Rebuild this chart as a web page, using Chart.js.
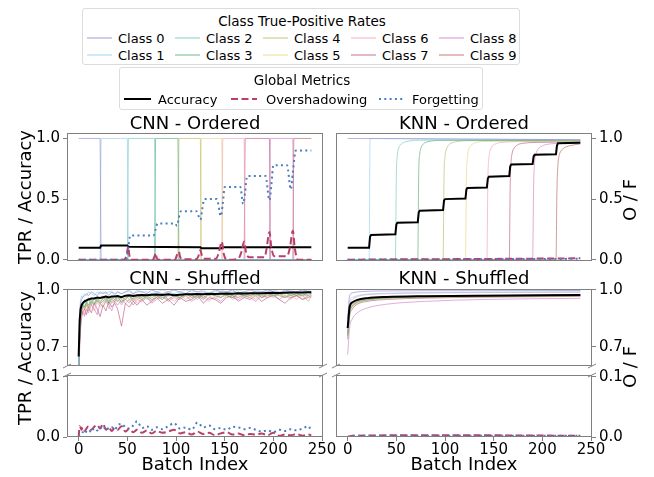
<!DOCTYPE html>
<html>
<head>
<meta charset="utf-8">
<script src="https://cdn.jsdelivr.net/npm/chart.js@4.4.0/dist/chart.umd.min.js"></script>
<style>
  body { margin: 0; background: #fff; font-family: 'DejaVu Sans', sans-serif; overflow: hidden; }
  #wrap { position: relative; width: 654px; height: 477px; }
  #wrap canvas { position: absolute; left: 0; top: 0; }
  .txt { position: absolute; white-space: nowrap; color: #000; line-height: 1; }
  .title { font-size: 18px; transform: translate(-50%, -50%); }
  .ylab { font-size: 18px; transform: translate(-50%, -50%) rotate(-90deg); }
  .legend { position: absolute; border: 1px solid #dcdcdc; border-radius: 3px; background: #fff; font-size: 13px; box-sizing: border-box; }
  .legend .lt { position: absolute; transform: translate(-50%, -50%); white-space: nowrap; font-size: 13.5px; }
  .legend .li { position: absolute; transform: translateY(-50%); white-space: nowrap; }
  .legend svg { position: absolute; overflow: visible; }
</style>
</head>
<body>
<div id="wrap">
  <canvas id="cnnOrd" width="654" height="477"></canvas>
  <canvas id="knnOrd" width="654" height="477"></canvas>
  <canvas id="cnnShufTop" width="654" height="477"></canvas>
  <canvas id="cnnShufBot" width="654" height="477"></canvas>
  <canvas id="knnShufTop" width="654" height="477"></canvas>
  <canvas id="knnShufBot" width="654" height="477"></canvas>

  <div class="txt title" style="left:195px; top:123px;">CNN - Ordered</div>
  <div class="txt title" style="left:464px; top:123px;">KNN - Ordered</div>
  <div class="txt title" style="left:195px; top:278px;">CNN - Shuffled</div>
  <div class="txt title" style="left:464px; top:278px;">KNN - Shuffled</div>
  <div class="txt ylab" style="left:25px; top:197px;">TPR / Accuracy</div>
  <div class="txt ylab" style="left:25px; top:358px;">TPR / Accuracy</div>
  <div class="txt ylab" style="left:630px; top:200px;">O / F</div>
  <div class="txt ylab" style="left:630px; top:367px;">O / F</div>
  <div class="txt title" style="left:195px; top:464px;">Batch Index</div>
  <div class="txt title" style="left:464px; top:464px;">Batch Index</div>

  <div class="legend" id="legClass" style="left:82px; top:8px; width:438px; height:57px;"></div>
  <div class="legend" id="legGlobal" style="left:119px; top:67px; width:364px; height:43px;"></div>
</div>

<script>
// ---- data ----
const classNames = ['Class 0', 'Class 1', 'Class 2', 'Class 3', 'Class 4',
                    'Class 5', 'Class 6', 'Class 7', 'Class 8', 'Class 9'];
const classColors = ['#8c80c8', '#8ccaf0', '#66c4b8', '#4fa36c', '#b5b45a',
                     '#e6cf7a', '#f09ab0', '#b8507a', '#cc78c0', '#b85a50'];
const xTicks = [0, 50, 100, 150, 200, 250];

// CNN ordered: batch at which each class takes over (TPR 1 while it is the current class)
const cnnOrderedStart = [0, 23, 51, 79, 103, 126, 148, 171, 197, 221];
const lastBatch = 239;
const cnnOrderedAcc = [[0, 0.1], [22, 0.1], [23, 0.117], [50, 0.117], [51, 0.107], [125, 0.104],
                       [126, 0.095], [147, 0.095], [148, 0.103], [239, 0.103]];
const cnnOrderedOvers = [[0, 0], [46, 0], [49, 0.03], [51, 0.11], [52, 0.04], [54, 0], [76, 0], [78, 0.03],
  [79, 0.057], [80, 0.02], [82, 0], [99, 0], [101, 0.04], [103, 0.067], [104, 0.03], [106, 0.005],
  [121, 0.005], [123, 0.03], [125, 0.08], [127, 0.02], [130, 0.008], [141, 0.008], [144, 0.06],
  [147, 0.15], [149, 0.05], [152, 0], [164, 0.01], [167, 0.06], [170, 0.15], [172, 0.06], [175, 0.02],
  [191, 0.02], [193, 0.09], [196, 0.23], [198, 0.1], [201, 0.03], [214, 0.03], [217, 0.1],
  [220, 0.24], [222, 0.1], [225, 0], [239, 0]];
const cnnOrderedForget = [[0, 0], [49, 0], [51, 0.1], [53, 0.2], [77, 0.2], [79, 0.25], [81, 0.3],
  [99, 0.3], [101, 0.28], [103, 0.35], [105, 0.4], [121, 0.4], [125, 0.33], [127, 0.42], [129, 0.5],
  [142, 0.5], [146, 0.36], [148, 0.46], [150, 0.6], [166, 0.6], [169, 0.46], [171, 0.56], [173, 0.69],
  [192, 0.69], [196, 0.49], [198, 0.62], [200, 0.78], [214, 0.78], [218, 0.58], [220, 0.72],
  [223, 0.9], [239, 0.9]];

// KNN ordered: per-class TPR curves
const knnOrderedTpr = [
  [[0, 1.0], [60, 0.998], [150, 0.994], [239, 0.99]],
  [[0, 0], [22, 0], [23, 1.0], [100, 0.995], [239, 0.99]],
  [[0, 0], [49, 0], [50, 0.7], [51, 0.86], [52, 0.91], [54, 0.945], [57, 0.965], [62, 0.978], [78, 0.986], [239, 0.985]],
  [[0, 0], [72, 0], [73, 0.72], [74, 0.87], [75, 0.915], [77, 0.948], [80, 0.967], [85, 0.978], [100, 0.985], [239, 0.982]],
  [[0, 0], [98, 0], [99, 0.7], [100, 0.85], [101, 0.9], [103, 0.938], [106, 0.96], [111, 0.973], [130, 0.982], [239, 0.98]],
  [[0, 0], [121, 0], [122, 0.68], [123, 0.84], [124, 0.9], [126, 0.935], [129, 0.957], [134, 0.97], [155, 0.978], [239, 0.978]],
  [[0, 0], [143, 0], [144, 0.66], [145, 0.83], [146, 0.89], [148, 0.93], [151, 0.952], [157, 0.966], [180, 0.974], [239, 0.975]],
  [[0, 0], [166, 0], [167, 0.64], [168, 0.82], [169, 0.88], [171, 0.92], [174, 0.945], [180, 0.96], [200, 0.968], [239, 0.972]],
  [[0, 0], [190, 0], [191, 0.6], [192, 0.8], [193, 0.86], [195, 0.905], [198, 0.93], [204, 0.95], [220, 0.96], [239, 0.965]],
  [[0, 0], [214, 0], [215, 0.58], [216, 0.78], [217, 0.85], [219, 0.895], [222, 0.92], [228, 0.94], [239, 0.955]]
];
const knnOrderedAccX = [0, 22, 23, 24, 49, 50, 51, 72, 73, 74, 98, 99, 100, 121, 122, 123,
                        143, 144, 145, 166, 167, 168, 190, 191, 192, 214, 215, 216, 239];
const knnOrderedAccY = [0.1, 0.1, 0.19, 0.205, 0.21, 0.29, 0.305, 0.31, 0.39, 0.405, 0.41, 0.49, 0.5,
                        0.505, 0.58, 0.592, 0.595, 0.67, 0.685, 0.69, 0.77, 0.785, 0.79, 0.85, 0.865,
                        0.87, 0.94, 0.96, 0.965];
const knnOrderedOvers = [[0, 0], [23, 0.002], [120, 0.006], [239, 0.012]];
const knnOrderedForget = [[0, 0], [50, 0.002], [239, 0.008]];

// CNN shuffled (sampled batches)
const shufX = [0, 1, 2, 3, 4, 6, 8, 10, 13, 16,
               19, 22, 25, 28, 31, 34, 37, 40, 44, 48,
               52, 56, 60, 65, 70, 75, 80, 86, 92, 98,
               104, 110, 116, 122, 128, 134, 140, 146, 152, 158,
               164, 170, 176, 182, 188, 194, 200, 206, 212, 218,
               224, 230, 236, 239];
const cnnShufTpr = [
  [0.55, 0.86, 0.93, 0.95, 0.96, 0.97, 0.98, 0.97, 0.99, 0.98,
   0.97, 0.99, 0.98, 0.99, 0.97, 0.99, 0.98, 0.99, 0.98, 0.99,
   1.0, 0.98, 0.99, 0.99, 0.98, 1.0, 0.99, 0.98, 0.99, 1.0,
   0.99, 0.98, 1.0, 0.99, 0.99, 0.98, 1.0, 0.99, 0.99, 1.0,
   0.98, 0.99, 1.0, 0.99, 0.99, 1.0, 0.99, 0.98, 1.0, 0.99,
   0.99, 1.0, 0.99, 0.99],
  [0.5, 0.9, 0.95, 0.97, 0.96, 0.98, 0.97, 0.99, 0.98, 0.97,
   0.99, 0.98, 0.99, 0.98, 0.99, 0.99, 0.97, 0.99, 0.98, 0.99,
   0.99, 0.98, 1.0, 0.99, 0.99, 0.98, 0.99, 1.0, 0.99, 0.98,
   0.99, 1.0, 0.99, 0.99, 1.0, 0.98, 0.99, 1.0, 0.99, 0.99,
   1.0, 0.99, 0.98, 1.0, 0.99, 0.99, 1.0, 0.99, 0.99, 1.0,
   0.98, 0.99, 1.0, 0.99],
  [0.42, 0.78, 0.88, 0.92, 0.9, 0.94, 0.93, 0.95, 0.92, 0.96,
   0.94, 0.93, 0.96, 0.95, 0.92, 0.96, 0.97, 0.94, 0.96, 0.97,
   0.95, 0.97, 0.96, 0.98, 0.95, 0.97, 0.98, 0.96, 0.97, 0.98,
   0.96, 0.98, 0.97, 0.95, 0.98, 0.97, 0.98, 0.96, 0.98, 0.97,
   0.99, 0.96, 0.98, 0.97, 0.98, 0.99, 0.97, 0.98, 0.96, 0.98,
   0.99, 0.97, 0.98, 0.98],
  [0.48, 0.8, 0.86, 0.9, 0.93, 0.91, 0.94, 0.92, 0.95, 0.93,
   0.96, 0.94, 0.95, 0.97, 0.94, 0.96, 0.95, 0.97, 0.93, 0.96,
   0.97, 0.95, 0.97, 0.96, 0.98, 0.96, 0.97, 0.95, 0.98, 0.97,
   0.96, 0.98, 0.97, 0.98, 0.96, 0.98, 0.97, 0.99, 0.97, 0.96,
   0.98, 0.97, 0.98, 0.99, 0.96, 0.98, 0.97, 0.98, 0.99, 0.97,
   0.98, 0.97, 0.99, 0.98],
  [0.45, 0.76, 0.85, 0.88, 0.92, 0.9, 0.93, 0.89, 0.94, 0.92,
   0.95, 0.93, 0.91, 0.95, 0.96, 0.93, 0.95, 0.94, 0.96, 0.95,
   0.93, 0.96, 0.97, 0.95, 0.96, 0.94, 0.97, 0.96, 0.95, 0.97,
   0.98, 0.95, 0.97, 0.96, 0.98, 0.97, 0.95, 0.98, 0.97, 0.96,
   0.98, 0.97, 0.96, 0.98, 0.97, 0.98, 0.96, 0.98, 0.97, 0.95,
   0.98, 0.97, 0.94, 0.97],
  [0.52, 0.82, 0.9, 0.93, 0.91, 0.95, 0.93, 0.96, 0.94, 0.95,
   0.93, 0.96, 0.97, 0.94, 0.96, 0.95, 0.97, 0.96, 0.94, 0.97,
   0.96, 0.98, 0.95, 0.97, 0.96, 0.98, 0.97, 0.96, 0.98, 0.97,
   0.95, 0.98, 0.97, 0.98, 0.96, 0.97, 0.98, 0.97, 0.96, 0.98,
   0.99, 0.97, 0.98, 0.96, 0.98, 0.97, 0.99, 0.97, 0.98, 0.97,
   0.98, 0.96, 0.98, 0.97],
  [0.4, 0.74, 0.84, 0.88, 0.9, 0.87, 0.92, 0.9, 0.93, 0.89,
   0.94, 0.91, 0.93, 0.95, 0.9, 0.94, 0.93, 0.95, 0.92, 0.95,
   0.94, 0.96, 0.93, 0.95, 0.97, 0.94, 0.96, 0.95, 0.97, 0.94,
   0.96, 0.97, 0.95, 0.97, 0.96, 0.94, 0.97, 0.96, 0.98, 0.95,
   0.97, 0.96, 0.97, 0.95, 0.98, 0.96, 0.97, 0.98, 0.96, 0.97,
   0.95, 0.98, 0.96, 0.97],
  [0.35, 0.7, 0.8, 0.86, 0.88, 0.9, 0.87, 0.91, 0.88, 0.93,
   0.9, 0.86, 0.92, 0.89, 0.94, 0.91, 0.93, 0.9, 0.81, 0.93,
   0.91, 0.94, 0.92, 0.95, 0.92, 0.94, 0.96, 0.93, 0.95, 0.92,
   0.96, 0.94, 0.95, 0.97, 0.93, 0.96, 0.95, 0.93, 0.96, 0.97,
   0.94, 0.96, 0.95, 0.97, 0.94, 0.96, 0.97, 0.95, 0.93, 0.96,
   0.97, 0.95, 0.96, 0.97],
  [0.38, 0.72, 0.82, 0.85, 0.89, 0.86, 0.9, 0.88, 0.92, 0.9,
   0.87, 0.93, 0.91, 0.94, 0.92, 0.89, 0.94, 0.92, 0.95, 0.93,
   0.95, 0.92, 0.95, 0.94, 0.96, 0.93, 0.95, 0.97, 0.94, 0.96,
   0.95, 0.97, 0.94, 0.96, 0.97, 0.95, 0.96, 0.94, 0.97, 0.96,
   0.95, 0.97, 0.96, 0.94, 0.97, 0.96, 0.98, 0.95, 0.97, 0.96,
   0.97, 0.95, 0.97, 0.96],
  [0.44, 0.78, 0.86, 0.9, 0.92, 0.9, 0.93, 0.91, 0.94, 0.92,
   0.95, 0.93, 0.94, 0.96, 0.93, 0.95, 0.94, 0.96, 0.94, 0.95,
   0.97, 0.94, 0.96, 0.95, 0.97, 0.95, 0.96, 0.98, 0.95, 0.97,
   0.96, 0.98, 0.96, 0.97, 0.95, 0.98, 0.97, 0.96, 0.98, 0.97,
   0.96, 0.98, 0.97, 0.98, 0.96, 0.97, 0.98, 0.97, 0.96, 0.98,
   0.97, 0.98, 0.97, 0.98]
];
const cnnShufAcc = [0.65, 0.84, 0.9, 0.92, 0.93, 0.94, 0.945, 0.95, 0.955, 0.955,
  0.96, 0.958, 0.962, 0.965, 0.96, 0.966, 0.965, 0.968, 0.962, 0.97,
  0.972, 0.968, 0.972, 0.974, 0.972, 0.975, 0.976, 0.973, 0.977, 0.972,
  0.975, 0.978, 0.977, 0.979, 0.977, 0.98, 0.979, 0.98, 0.981, 0.98,
  0.982, 0.981, 0.982, 0.983, 0.982, 0.984, 0.985, 0.984, 0.985, 0.986,
  0.986, 0.987, 0.988, 0.988];
const cnnShufOvers = [0.0, 0.018, 0.015, 0.012, 0.016, 0.01, 0.014, 0.018, 0.012, 0.017,
  0.02, 0.014, 0.022, 0.012, 0.016, 0.01, 0.015, 0.012, 0.018, 0.009,
  0.014, 0.008, 0.012, 0.007, 0.011, 0.006, 0.01, 0.007, 0.009, 0.012,
  0.006, 0.008, 0.004, 0.009, 0.005, 0.007, 0.003, 0.006, 0.008, 0.004,
  0.006, 0.003, 0.005, 0.004, 0.006, 0.003, 0.007, 0.002, 0.004, 0.003,
  0.005, 0.002, 0.004, 0.003];
const cnnShufForget = [0.0, 0.002, 0.004, 0.006, 0.008, 0.005, 0.01, 0.012, 0.008, 0.015,
  0.011, 0.016, 0.012, 0.018, 0.013, 0.016, 0.012, 0.019, 0.022, 0.016,
  0.014, 0.019, 0.026, 0.015, 0.018, 0.012, 0.016, 0.013, 0.018, 0.023,
  0.014, 0.016, 0.012, 0.024, 0.016, 0.019, 0.013, 0.015, 0.012, 0.017,
  0.016, 0.013, 0.015, 0.012, 0.009, 0.011, 0.008, 0.012, 0.01, 0.013,
  0.011, 0.014, 0.018, 0.01];

// KNN shuffled (smooth curves)
const knnShufX = [0, 2, 5, 10, 20, 40, 80, 140, 239];
const knnShufTpr = [
  [0.85, 0.97, 0.985, 0.99, 0.993, 0.995, 0.996, 0.996, 0.997],
  [0.82, 0.94, 0.96, 0.97, 0.978, 0.983, 0.986, 0.988, 0.99],
  [0.78, 0.9, 0.93, 0.945, 0.955, 0.962, 0.968, 0.972, 0.975],
  [0.76, 0.88, 0.915, 0.935, 0.948, 0.958, 0.964, 0.968, 0.972],
  [0.75, 0.87, 0.91, 0.93, 0.945, 0.955, 0.96, 0.964, 0.968],
  [0.77, 0.89, 0.92, 0.94, 0.95, 0.96, 0.965, 0.97, 0.973],
  [0.8, 0.92, 0.95, 0.965, 0.975, 0.98, 0.984, 0.986, 0.988],
  [0.74, 0.86, 0.9, 0.925, 0.94, 0.95, 0.957, 0.962, 0.966],
  [0.66, 0.8, 0.85, 0.88, 0.905, 0.925, 0.94, 0.95, 0.956],
  [0.77, 0.88, 0.92, 0.94, 0.952, 0.96, 0.966, 0.97, 0.974]
];
const knnShufAcc = [0.8, 0.91, 0.935, 0.948, 0.957, 0.963, 0.967, 0.97, 0.973];
const knnShufOvers = [[0, 0], [5, 0.002], [100, 0.003], [239, 0.002]];
const knnShufForget = [[0, 0], [5, 0.002], [239, 0.002]];

// ---- styling ----
const W = 654, H = 477;
const frameColor = '#808080';
const accColor = '#000000';
const oversColor = '#b8406a';
const forgetColor = '#4a7fbf';
const classAlpha = 0.6;

Chart.defaults.font.family = "'DejaVu Sans', sans-serif";
Chart.defaults.font.size = 15;
Chart.defaults.color = '#000';

function fade(hex, a) {
  const n = parseInt(hex.slice(1), 16);
  return `rgba(${(n >> 16) & 255}, ${(n >> 8) & 255}, ${n & 255}, ${a})`;
}

function pairs(list) {
  return list.map(p => ({ x: p[0], y: p[1] }));
}

function zipXY(xs, ys) {
  return xs.map((x, i) => ({ x: x, y: ys[i] }));
}

// step series for the ordered CNN: 1 while the class is current, 0 otherwise
function stepPoints(k) {
  const s = cnnOrderedStart[k];
  const e = k + 1 < cnnOrderedStart.length ? cnnOrderedStart[k + 1] : null;
  const pts = [];
  if (s > 0) pts.push([0, 0], [s - 1, 0]);
  pts.push([s, 1]);
  if (e !== null) pts.push([e - 1, 1], [e, 0], [lastBatch, 0]);
  else pts.push([lastBatch, 1]);
  return pairs(pts);
}

function classSet(k, data, smooth) {
  return {
    data: data, borderColor: fade(classColors[k], classAlpha), borderWidth: 1,
    pointRadius: 0, fill: false, order: 10 + k,
    cubicInterpolationMode: smooth ? 'monotone' : 'default', tension: 0
  };
}

function accSet(data, smooth) {
  return {
    data: data, borderColor: accColor, borderWidth: 2, pointRadius: 0, fill: false, order: 2,
    cubicInterpolationMode: smooth ? 'monotone' : 'default', tension: 0
  };
}

function oversSet(data) {
  return {
    data: data, borderColor: oversColor, borderWidth: 2, borderDash: [7, 3.5], pointRadius: 0,
    fill: false, order: 1, cubicInterpolationMode: 'monotone'
  };
}

function forgetSet(data) {
  return {
    data: data, borderColor: forgetColor, borderWidth: 2, borderDash: [2, 3.3], pointRadius: 0,
    fill: false, order: 0, cubicInterpolationMode: 'monotone'
  };
}

// frame around each plot area, plus the broken-axis marks
const framePlugin = {
  id: 'frame',
  afterDraw(chart, args, opts) {
    const { ctx, chartArea: a } = chart;
    ctx.save();
    ctx.strokeStyle = frameColor;
    ctx.lineWidth = 1;
    ctx.strokeRect(a.left + 0.5, a.top + 0.5, a.right - a.left - 1, a.bottom - a.top - 1);
    if (opts.breakEdge) {
      const y = opts.breakEdge === 'bottom' ? a.bottom : a.top;
      [a.left, a.right].forEach(x => {
        ctx.beginPath();
        ctx.moveTo(x - 4, y + 2);
        ctx.lineTo(x + 4, y - 2);
        ctx.stroke();
      });
    }
    ctx.restore();
  }
};

function makePanel(id, box, yPos, yMin, yMax, yTicks, showX, datasets, breakEdge) {
  const yW = 50, xH = showX ? 20 : 0;
  const padding = {
    top: box.top,
    bottom: H - box.bottom - xH,
    left: yPos === 'left' ? box.left - yW : box.left,
    right: yPos === 'right' ? W - box.right - yW : W - box.right
  };
  const xScale = {
    type: 'linear', min: -12, max: 251, display: showX,
    afterBuildTicks: s => { s.ticks = xTicks.map(v => ({ value: v })); },
    ticks: { callback: v => String(v), padding: 0, maxRotation: 0, autoSkip: false, color: '#000' },
    grid: { drawOnChartArea: false, tickLength: 4, color: frameColor },
    border: { display: false }
  };
  if (showX) xScale.afterFit = s => { s.height = xH; };
  new Chart(document.getElementById(id), {
    type: 'line',
    data: { datasets: datasets },
    options: {
      responsive: false, animation: false, events: [],
      layout: { padding: padding, autoPadding: false },
      plugins: { legend: { display: false }, title: { display: false }, tooltip: { enabled: false },
                 frame: { breakEdge: breakEdge } },
      scales: {
        x: xScale,
        y: {
          position: yPos, min: yMin, max: yMax,
          afterBuildTicks: s => { s.ticks = yTicks.map(v => ({ value: v })); },
          afterFit: s => { s.width = yW; },
          ticks: { callback: v => v.toFixed(1), padding: 3, color: '#000' },
          grid: { drawOnChartArea: false, tickLength: 4, color: frameColor },
          border: { display: false }
        }
      }
    },
    plugins: [framePlugin]
  });
}

// ---- panels ----
const ordTicks = [0, 0.5, 1.0];
const topTicks = [0.7, 1.0];
const botTicks = [0, 0.1];

makePanel('cnnOrd', { left: 67, top: 133, right: 323, bottom: 261 }, 'left', -0.01, 1.045, ordTicks, false, [
  forgetSet(pairs(cnnOrderedForget)),
  oversSet(pairs(cnnOrderedOvers)),
  accSet(pairs(cnnOrderedAcc), false),
  ...classNames.map((_, k) => classSet(k, stepPoints(k), false))
]);

makePanel('knnOrd', { left: 336, top: 133, right: 592, bottom: 261 }, 'right', -0.01, 1.045, ordTicks, false, [
  forgetSet(pairs(knnOrderedForget)),
  oversSet(pairs(knnOrderedOvers)),
  accSet(zipXY(knnOrderedAccX, knnOrderedAccY), false),
  ...knnOrderedTpr.map((pts, k) => classSet(k, pairs(pts), true))
]);

makePanel('cnnShufTop', { left: 67, top: 289, right: 323, bottom: 366 }, 'left', 0.6, 1.005, topTicks, false, [
  accSet(zipXY(shufX, cnnShufAcc), false),
  ...cnnShufTpr.map((ys, k) => classSet(k, zipXY(shufX, ys), false))
], 'bottom');

makePanel('cnnShufBot', { left: 67, top: 375, right: 323, bottom: 437 }, 'left', 0, 0.103, botTicks, true, [
  forgetSet(zipXY(shufX, cnnShufForget)),
  oversSet(zipXY(shufX, cnnShufOvers))
], 'top');

makePanel('knnShufTop', { left: 336, top: 289, right: 592, bottom: 366 }, 'right', 0.6, 1.005, topTicks, false, [
  accSet(zipXY(knnShufX, knnShufAcc), true),
  ...knnShufTpr.map((ys, k) => classSet(k, zipXY(knnShufX, ys), true))
], 'bottom');

makePanel('knnShufBot', { left: 336, top: 375, right: 592, bottom: 437 }, 'right', 0, 0.103, botTicks, true, [
  forgetSet(pairs(knnShufForget)),
  oversSet(pairs(knnShufOvers))
], 'top');

// ---- legends ----
function keyLine(x, y, len, color, width, dash) {
  return `<svg style="left:${x}px; top:${y}px;" width="${len}" height="1">` +
         `<line x1="0" y1="0" x2="${len}" y2="0" stroke="${color}" stroke-width="${width}"` +
         (dash ? ` stroke-dasharray="${dash}"` : '') + `/></svg>`;
}

let html = `<div class="lt" style="left:219px; top:12px;">Class True-Positive Rates</div>`;
classNames.forEach((name, k) => {
  const col = Math.floor(k / 2), row = k % 2;
  const y = row === 0 ? 29 : 46;
  const x0 = 4 + 88 * col;
  html += keyLine(x0, y, 25, fade(classColors[k], 0.4), 2);
  html += `<div class="li" style="left:${x0 + 31}px; top:${y}px;">${name}</div>`;
});
document.getElementById('legClass').innerHTML = html;

const globalItems = [
  { name: 'Accuracy', color: accColor, dash: null, x: 4, len: 27, tx: 38 },
  { name: 'Overshadowing', color: oversColor, dash: '7 3.5', x: 111, len: 26, tx: 146 },
  { name: 'Forgetting', color: forgetColor, dash: '2 3.3', x: 259, len: 25, tx: 292 }
];
let html2 = `<div class="lt" style="left:182px; top:12px;">Global Metrics</div>`;
globalItems.forEach(it => {
  html2 += keyLine(it.x, 31, it.len, it.color, 2, it.dash);
  html2 += `<div class="li" style="left:${it.tx}px; top:31px;">${it.name}</div>`;
});
document.getElementById('legGlobal').innerHTML = html2;
</script>
</body>
</html>
